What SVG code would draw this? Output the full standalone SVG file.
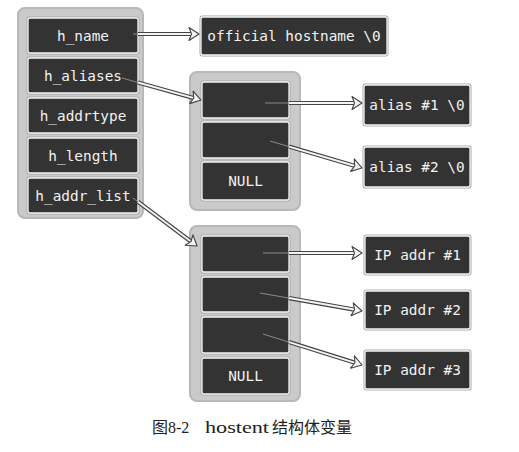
<svg xmlns="http://www.w3.org/2000/svg" width="519" height="452" viewBox="0 0 519 452">
<style>
.cont{fill:#cacaca;stroke:#b8b8b8;stroke-width:2}
.bo{fill:#a8a8a8}
.bx{fill:#333;stroke:#f4f4f4;stroke-width:1.3}
.t{fill:#f2f2f2;font-family:"DejaVu Sans Mono","Liberation Mono",monospace;font-size:14.4px;text-anchor:middle}
.lo{fill:none;stroke:#444;stroke-width:4.2}
.li{fill:none;stroke:#f4f4f4;stroke-width:2}
.th{fill:none;stroke:#8a8a8a;stroke-width:1}
.cap{font-family:"Liberation Serif","Noto Sans CJK SC",serif;font-size:16px;fill:#222}
</style>
<defs>
<marker id="ah" markerUnits="userSpaceOnUse" markerWidth="24" markerHeight="24" viewBox="-12 -12 24 24" refX="0" refY="0" orient="auto" overflow="visible">
<polygon points="8,0 -2,-6.5 0.5,0 -2,6.5" fill="#f4f4f4" stroke="#444" stroke-width="1.1" stroke-linejoin="round"/>
</marker>
</defs>
<rect width="519" height="452" fill="#fff"/>

<g id="hostent">
<rect class="cont" x="18" y="8" width="125" height="210" rx="7"/>
<g id="h_name"><rect class="bo" x="26.5" y="16.5" width="113" height="38" rx="3"/><rect class="bx" x="28" y="18" width="110" height="35" rx="2"/><text class="t" x="83" y="40.5">h_name</text></g>
<g id="h_aliases"><rect class="bo" x="26.5" y="56.5" width="113" height="38" rx="3"/><rect class="bx" x="28" y="58" width="110" height="35" rx="2"/><text class="t" x="83" y="80.5">h_aliases</text></g>
<g id="h_addrtype"><rect class="bo" x="26.5" y="96.5" width="113" height="38" rx="3"/><rect class="bx" x="28" y="98" width="110" height="35" rx="2"/><text class="t" x="83" y="120.5">h_addrtype</text></g>
<g id="h_length"><rect class="bo" x="26.5" y="136.5" width="113" height="38" rx="3"/><rect class="bx" x="28" y="138" width="110" height="35" rx="2"/><text class="t" x="83" y="160.5">h_length</text></g>
<g id="h_addr_list"><rect class="bo" x="26.5" y="176.5" width="113" height="38" rx="3"/><rect class="bx" x="28" y="178" width="110" height="35" rx="2"/><text class="t" x="83" y="200.5">h_addr_list</text></g>
</g>

<g id="official"><rect class="bo" x="199.5" y="15.5" width="189" height="41" rx="3"/><rect class="bx" x="201" y="17" width="186" height="38" rx="2"/><text class="t" x="294" y="40.5">official hostname \0</text></g>

<g id="aliases">
<rect class="cont" x="190" y="72" width="110" height="138" rx="7"/>
<g id="alias_p1"><rect class="bo" x="200.5" y="80.5" width="90" height="39" rx="3"/><rect class="bx" x="202" y="82" width="87" height="36" rx="2"/></g>
<g id="alias_p2"><rect class="bo" x="200.5" y="120.5" width="90" height="39" rx="3"/><rect class="bx" x="202" y="122" width="87" height="36" rx="2"/></g>
<g id="alias_null"><rect class="bo" x="200.5" y="160.5" width="90" height="41" rx="3"/><rect class="bx" x="202" y="162" width="87" height="38" rx="2"/><text class="t" x="245.5" y="186">NULL</text></g>
</g>

<g id="alias1"><rect class="bo" x="362.5" y="83.5" width="109" height="43" rx="3"/><rect class="bx" x="364" y="85" width="106" height="40" rx="2"/><text class="t" x="417" y="110">alias #1 \0</text></g>
<g id="alias2"><rect class="bo" x="362.5" y="145.5" width="109" height="43" rx="3"/><rect class="bx" x="364" y="147" width="106" height="40" rx="2"/><text class="t" x="417" y="172">alias #2 \0</text></g>

<g id="addrs">
<rect class="cont" x="190" y="226" width="110" height="175" rx="7"/>
<g id="addr_p1"><rect class="bo" x="200.5" y="234.5" width="90" height="39" rx="3"/><rect class="bx" x="202" y="236" width="87" height="36" rx="2"/></g>
<g id="addr_p2"><rect class="bo" x="200.5" y="275.5" width="90" height="38" rx="3"/><rect class="bx" x="202" y="277" width="87" height="35" rx="2"/></g>
<g id="addr_p3"><rect class="bo" x="200.5" y="315.5" width="90" height="39" rx="3"/><rect class="bx" x="202" y="317" width="87" height="36" rx="2"/></g>
<g id="addr_null"><rect class="bo" x="200.5" y="356.5" width="90" height="39" rx="3"/><rect class="bx" x="202" y="358" width="87" height="36" rx="2"/><text class="t" x="245.5" y="381">NULL</text></g>
</g>

<g id="ip1"><rect class="bo" x="363.5" y="234.5" width="108" height="41" rx="3"/><rect class="bx" x="365" y="236" width="105" height="38" rx="2"/><text class="t" x="417.5" y="260">IP addr #1</text></g>
<g id="ip2"><rect class="bo" x="363.5" y="289.5" width="108" height="41" rx="3"/><rect class="bx" x="365" y="291" width="105" height="38" rx="2"/><text class="t" x="417.5" y="315">IP addr #2</text></g>
<g id="ip3"><rect class="bo" x="363.5" y="349.5" width="108" height="41" rx="3"/><rect class="bx" x="365" y="351" width="105" height="38" rx="2"/><text class="t" x="417.5" y="375">IP addr #3</text></g>

<g id="connectors">
<path class="th" d="M133,34 L138,34"/><path class="lo" d="M138,34 L191,34"/><path class="li" d="M138,34 L191,34" marker-end="url(#ah)"/>
<path class="th" d="M122,78 L138,82.5"/><path class="lo" d="M138,82.5 L193.3,97.9"/><path class="li" d="M138,82.5 L193.3,97.9" marker-end="url(#ah)"/>
<path class="th" d="M133,198 L138,201.75"/><path class="lo" d="M138,201.75 L190.6,241.2"/><path class="li" d="M138,201.75 L190.6,241.2" marker-end="url(#ah)"/>
<path class="th" d="M265,103 L289,103"/><path class="lo" d="M289,103 L354,103"/><path class="li" d="M289,103 L354,103" marker-end="url(#ah)"/>
<path class="th" d="M270,141 L289,146.6"/><path class="lo" d="M289,146.6 L354.3,165.7"/><path class="li" d="M289,146.6 L354.3,165.7" marker-end="url(#ah)"/>
<path class="th" d="M263,253 L289,253"/><path class="lo" d="M289,253 L354,253"/><path class="li" d="M289,253 L354,253" marker-end="url(#ah)"/>
<path class="th" d="M260,293 L289,298.1"/><path class="lo" d="M289,298.1 L354.1,309.6"/><path class="li" d="M289,298.1 L354.1,309.6" marker-end="url(#ah)"/>
<path class="th" d="M263,334 L289,342.1"/><path class="lo" d="M289,342.1 L354.4,362.6"/><path class="li" d="M289,342.1 L354.4,362.6" marker-end="url(#ah)"/>
</g>

<g id="caption">
<text class="cap" x="152" y="433">图8-2</text>
<text class="cap" x="205" y="433" textLength="64" lengthAdjust="spacingAndGlyphs">hostent</text>
<text class="cap" x="272" y="433">结构体变量</text>
</g>
</svg>
